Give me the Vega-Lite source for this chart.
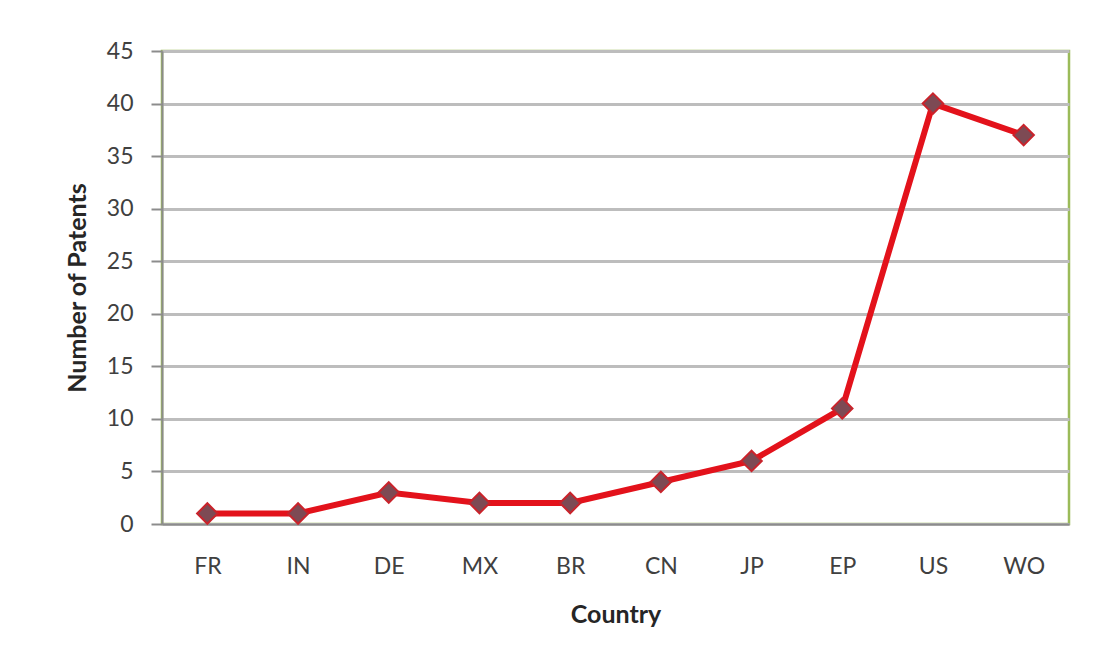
{
  "$schema": "https://vega.github.io/schema/vega-lite/v6.json",
  "width": 907,
  "height": 473,
  "autosize": {"type": "none"},
  "padding": {"left": 162, "top": 51, "right": 30, "bottom": 144},
  "background": "white",
  "data": {
    "values": [
      {"country": "FR", "patents": 1},
      {"country": "IN", "patents": 1},
      {"country": "DE", "patents": 3},
      {"country": "MX", "patents": 2},
      {"country": "BR", "patents": 2},
      {"country": "CN", "patents": 4},
      {"country": "JP", "patents": 6},
      {"country": "EP", "patents": 11},
      {"country": "US", "patents": 40},
      {"country": "WO", "patents": 37}
    ]
  },
  "encoding": {
    "x": {
      "field": "country",
      "type": "nominal",
      "sort": null,
      "title": "Country",
      "scale": {"type": "point", "padding": 0.5},
      "axis": {
        "labelAngle": 0,
        "ticks": false,
        "grid": false,
        "domainColor": "#8c8c8c",
        "domainWidth": 2,
        "labelPadding": 31,
        "titlePadding": 24
      }
    },
    "y": {
      "field": "patents",
      "type": "quantitative",
      "title": "Number of Patents",
      "scale": {"domain": [0, 45], "nice": false},
      "axis": {
        "values": [0, 5, 10, 15, 20, 25, 30, 35, 40, 45],
        "tickSize": 11,
        "tickColor": "#8c8c8c",
        "tickWidth": 2,
        "domainColor": "#8c8c8c",
        "domainWidth": 2,
        "gridColor": "#bdbdbd",
        "gridWidth": 3,
        "labelPadding": 18,
        "titlePadding": 16
      }
    }
  },
  "layer": [
    {"mark": {"type": "line", "color": "#e3121b", "strokeWidth": 6}},
    {"mark": {"type": "point", "shape": "diamond", "filled": true, "size": 420, "fill": "#7d4a54", "stroke": "#c9232b", "strokeWidth": 2, "opacity": 1}}
  ],
  "config": {
    "font": "Lato",
    "view": {"stroke": "#9bbb59", "strokeWidth": 2.5},
    "axis": {
      "labelFont": "Lato",
      "labelFontSize": 23,
      "labelColor": "#404040",
      "titleFont": "Lato",
      "titleFontSize": 25,
      "titleFontWeight": "bold",
      "titleColor": "#262626"
    }
  }
}
